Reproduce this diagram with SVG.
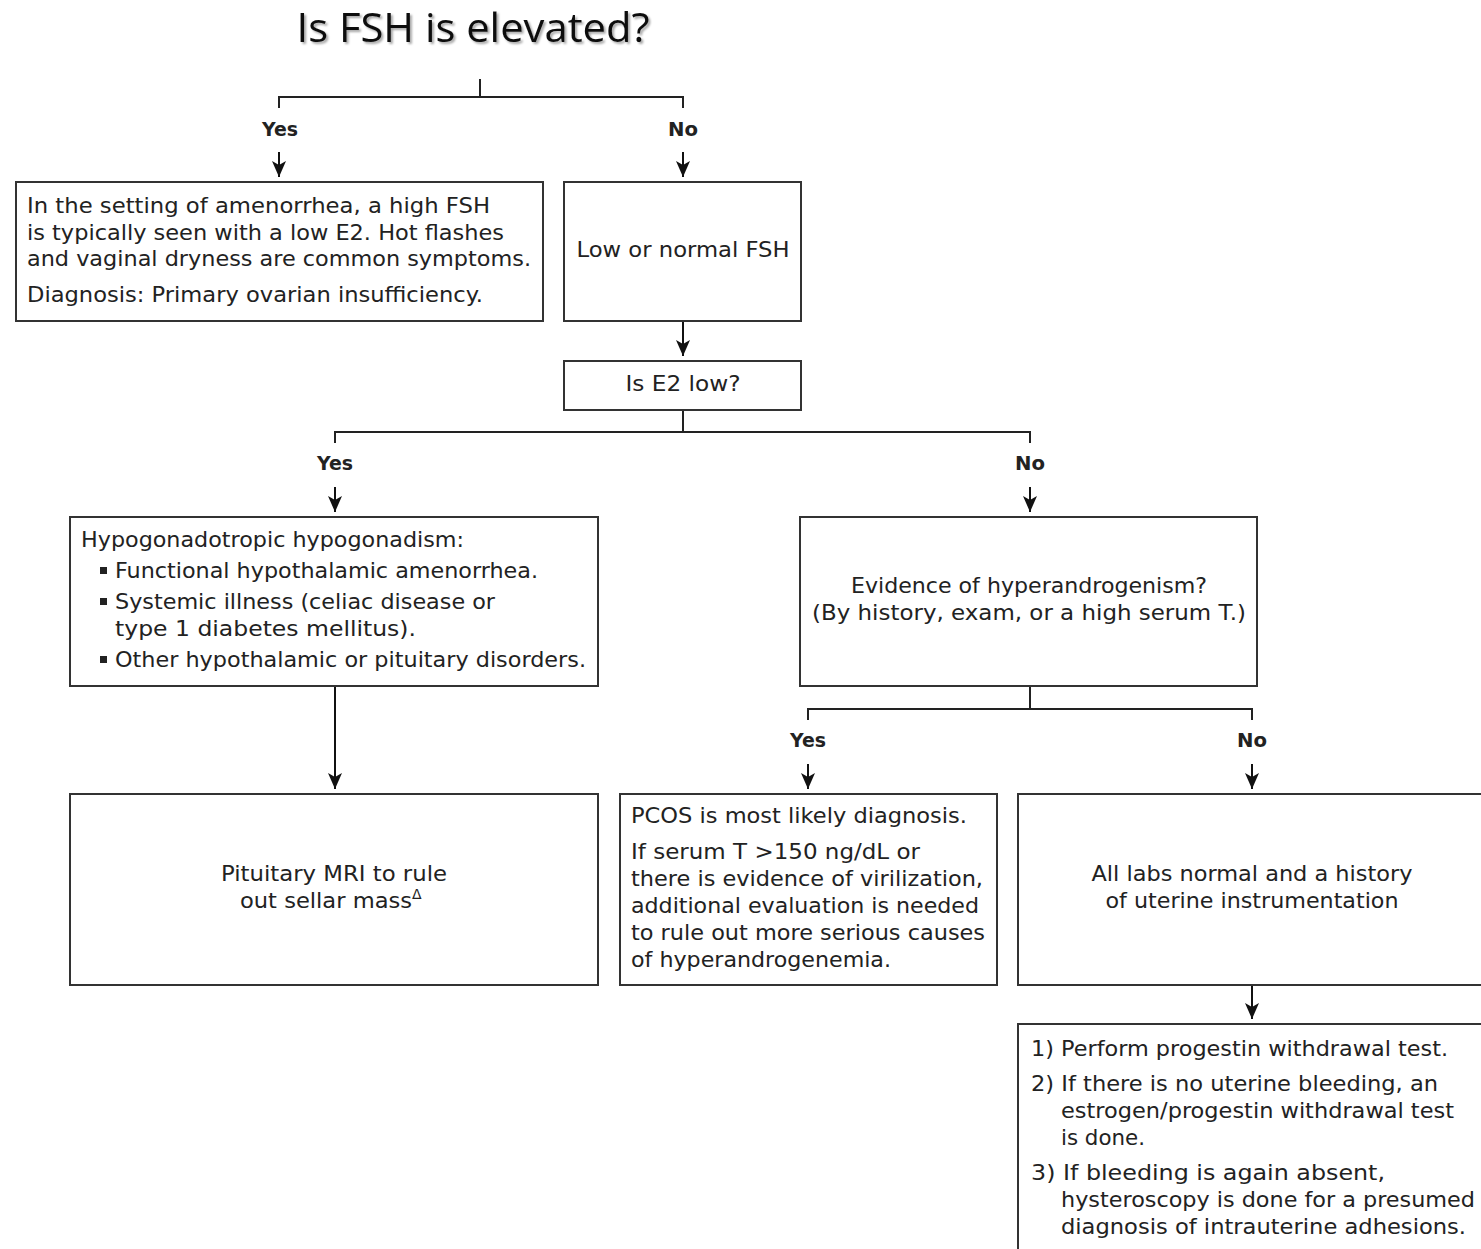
<svg xmlns="http://www.w3.org/2000/svg" width="1481" height="1249" viewBox="0 0 1481 1249">
<defs>
<marker id="ah" viewBox="0 0 16 14" refX="16" refY="7" markerWidth="16" markerHeight="14" markerUnits="userSpaceOnUse" orient="auto">
<path d="M0,0 L16,7 L0,14 L4,7 z" fill="#111"/>
</marker>
<filter id="sh" x="-10%" y="-30%" width="120%" height="160%">
<feDropShadow dx="2" dy="2" stdDeviation="1.2" flood-color="#000" flood-opacity="0.35"/>
</filter>
</defs>
<style>
.b{fill:#fff;stroke:#333;stroke-width:2}
.t{font-family:"DejaVu Sans",Verdana,sans-serif;font-size:20.5px;fill:#222}
.y{font-weight:bold;font-size:19px}
.c{text-anchor:middle}
.l{fill:none;stroke:#222;stroke-width:2}
.a{fill:none;stroke:#111;stroke-width:2;marker-end:url(#ah)}
.title{font-family:"Open Sans","Liberation Sans",sans-serif;font-size:40px;fill:#111}
</style>
<rect width="1481" height="1249" fill="#fff"/>
<text class="title" x="473" y="42" text-anchor="middle" textLength="353" lengthAdjust="spacingAndGlyphs" filter="url(#sh)">Is FSH is elevated?</text>
<g id="connectors">
<path class="l" d="M480,79 V97 M279,108 V97 H683 V108"/>
<path class="a" d="M279,152 V177"/>
<path class="a" d="M683,152 V177"/>
<path class="a" d="M683,321 V356"/>
<path class="l" d="M683,410 V432 M335,443 V432 H1030 V443"/>
<path class="a" d="M335,487 V512"/>
<path class="a" d="M1030,487 V512"/>
<path class="a" d="M335,686 V789"/>
<path class="l" d="M1030,686 V709 M808,720 V709 H1252 V720"/>
<path class="a" d="M808,764 V789"/>
<path class="a" d="M1252,764 V789"/>
<path class="a" d="M1252,985 V1019"/>
<text class="t y c" x="280" y="136" textLength="36" lengthAdjust="spacingAndGlyphs">Yes</text>
<text class="t y c" x="683" y="136" textLength="30" lengthAdjust="spacingAndGlyphs">No</text>
<text class="t y c" x="335" y="470" textLength="36" lengthAdjust="spacingAndGlyphs">Yes</text>
<text class="t y c" x="1030" y="470" textLength="30" lengthAdjust="spacingAndGlyphs">No</text>
<text class="t y c" x="808" y="747" textLength="36" lengthAdjust="spacingAndGlyphs">Yes</text>
<text class="t y c" x="1252" y="747" textLength="30" lengthAdjust="spacingAndGlyphs">No</text>
</g>
<g id="n1">
<rect class="b" x="16" y="182" width="527" height="139"/>
<text class="t" x="27" y="213" textLength="463" lengthAdjust="spacingAndGlyphs">In the setting of amenorrhea, a high FSH</text>
<text class="t" x="27" y="240" textLength="477" lengthAdjust="spacingAndGlyphs">is typically seen with a low E2. Hot flashes</text>
<text class="t" x="27" y="266" textLength="504" lengthAdjust="spacingAndGlyphs">and vaginal dryness are common symptoms.</text>
<text class="t" x="27" y="302" textLength="456" lengthAdjust="spacingAndGlyphs">Diagnosis: Primary ovarian insufficiency.</text>
</g>
<g id="n2">
<rect class="b" x="564" y="182" width="237" height="139"/>
<text class="t c" x="683" y="257" textLength="213" lengthAdjust="spacingAndGlyphs">Low or normal FSH</text>
</g>
<g id="n3">
<rect class="b" x="564" y="361" width="237" height="49"/>
<text class="t c" x="683" y="391" textLength="115" lengthAdjust="spacingAndGlyphs">Is E2 low?</text>
</g>
<g id="n4">
<rect class="b" x="70" y="517" width="528" height="169"/>
<text class="t" x="81" y="547" textLength="383" lengthAdjust="spacingAndGlyphs">Hypogonadotropic hypogonadism:</text>
<rect x="100" y="567" width="7" height="7" fill="#222"/>
<text class="t" x="115" y="578" textLength="423" lengthAdjust="spacingAndGlyphs">Functional hypothalamic amenorrhea.</text>
<rect x="100" y="598" width="7" height="7" fill="#222"/>
<text class="t" x="115" y="609" textLength="380" lengthAdjust="spacingAndGlyphs">Systemic illness (celiac disease or</text>
<text class="t" x="115" y="636" textLength="301" lengthAdjust="spacingAndGlyphs">type 1 diabetes mellitus).</text>
<rect x="100" y="656" width="7" height="7" fill="#222"/>
<text class="t" x="115" y="667" textLength="471" lengthAdjust="spacingAndGlyphs">Other hypothalamic or pituitary disorders.</text>
</g>
<g id="n5">
<rect class="b" x="800" y="517" width="457" height="169"/>
<text class="t c" x="1029" y="593" textLength="356" lengthAdjust="spacingAndGlyphs">Evidence of hyperandrogenism?</text>
<text class="t c" x="1029" y="620" textLength="434" lengthAdjust="spacingAndGlyphs">(By history, exam, or a high serum T.)</text>
</g>
<g id="n6">
<rect class="b" x="70" y="794" width="528" height="191"/>
<text class="t c" x="334" y="881" textLength="226" lengthAdjust="spacingAndGlyphs">Pituitary MRI to rule</text>
<text class="t" x="240" y="908"><tspan textLength="172" lengthAdjust="spacingAndGlyphs">out sellar mass</tspan><tspan font-size="14" dy="-9">Δ</tspan></text>
</g>
<g id="n7">
<rect class="b" x="620" y="794" width="377" height="191"/>
<text class="t" x="631" y="823" textLength="336" lengthAdjust="spacingAndGlyphs">PCOS is most likely diagnosis.</text>
<text class="t" x="631" y="859" textLength="289" lengthAdjust="spacingAndGlyphs">If serum T &gt;150 ng/dL or</text>
<text class="t" x="631" y="886" textLength="352" lengthAdjust="spacingAndGlyphs">there is evidence of virilization,</text>
<text class="t" x="631" y="913" textLength="348" lengthAdjust="spacingAndGlyphs">additional evaluation is needed</text>
<text class="t" x="631" y="940" textLength="354" lengthAdjust="spacingAndGlyphs">to rule out more serious causes</text>
<text class="t" x="631" y="967" textLength="260" lengthAdjust="spacingAndGlyphs">of hyperandrogenemia.</text>
</g>
<g id="n8">
<rect class="b" x="1018" y="794" width="470" height="191"/>
<text class="t c" x="1252" y="881" textLength="321" lengthAdjust="spacingAndGlyphs">All labs normal and a history</text>
<text class="t c" x="1252" y="908" textLength="293" lengthAdjust="spacingAndGlyphs">of uterine instrumentation</text>
</g>
<g id="n9">
<rect class="b" x="1018" y="1024" width="470" height="240"/>
<text class="t" x="1031" y="1056" textLength="417" lengthAdjust="spacingAndGlyphs">1) Perform progestin withdrawal test.</text>
<text class="t" x="1031" y="1091" textLength="407" lengthAdjust="spacingAndGlyphs">2) If there is no uterine bleeding, an</text>
<text class="t" x="1061" y="1118" textLength="393" lengthAdjust="spacingAndGlyphs">estrogen/progestin withdrawal test</text>
<text class="t" x="1061" y="1145" textLength="84" lengthAdjust="spacingAndGlyphs">is done.</text>
<text class="t" x="1031" y="1180" textLength="354" lengthAdjust="spacingAndGlyphs">3) If bleeding is again absent,</text>
<text class="t" x="1061" y="1207" textLength="414" lengthAdjust="spacingAndGlyphs">hysteroscopy is done for a presumed</text>
<text class="t" x="1061" y="1234" textLength="405" lengthAdjust="spacingAndGlyphs">diagnosis of intrauterine adhesions.</text>
</g>
</svg>
